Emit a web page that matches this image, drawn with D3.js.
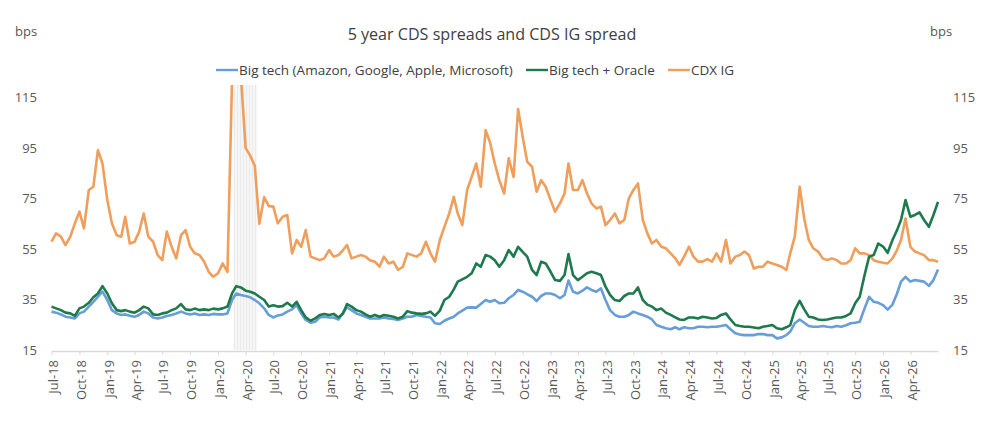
<!DOCTYPE html>
<html><head><meta charset="utf-8">
<script src="https://cdn.jsdelivr.net/npm/d3@7/dist/d3.min.js"></script>
<style>
html,body{margin:0;padding:0;background:#fff;}
svg{display:block;font-family:"Open Sans","Noto Sans",sans-serif;}
</style></head>
<body><svg id="chart" width="990" height="426"></svg>
<script>
// ---------------- DATA ----------------
const dates = [
"2018-07-01","2018-07-16","2018-08-01","2018-08-16","2018-09-01","2018-09-16","2018-10-01","2018-10-16","2018-11-01","2018-11-16","2018-12-01","2018-12-16",
"2019-01-01","2019-01-16","2019-02-01","2019-02-16","2019-03-01","2019-03-16","2019-04-01","2019-04-16","2019-05-01","2019-05-16","2019-06-01","2019-06-16",
"2019-07-01","2019-07-16","2019-08-01","2019-08-16","2019-09-01","2019-09-16","2019-10-01","2019-10-16","2019-11-01","2019-11-16","2019-12-01","2019-12-16",
"2020-01-01","2020-01-16","2020-02-01","2020-02-16","2020-03-01","2020-03-16","2020-04-01","2020-04-16","2020-05-01","2020-05-16","2020-06-01","2020-06-16",
"2020-07-01","2020-07-16","2020-08-01","2020-08-16","2020-09-01","2020-09-16","2020-10-01","2020-10-16","2020-11-01","2020-11-16","2020-12-01","2020-12-16",
"2021-01-01","2021-01-16","2021-02-01","2021-02-16","2021-03-01","2021-03-16","2021-04-01","2021-04-16","2021-05-01","2021-05-16","2021-06-01","2021-06-16",
"2021-07-01","2021-07-16","2021-08-01","2021-08-16","2021-09-01","2021-09-16","2021-10-01","2021-10-16","2021-11-01","2021-11-16","2021-12-01","2021-12-16",
"2022-01-01","2022-01-16","2022-02-01","2022-02-16","2022-03-01","2022-03-16","2022-04-01","2022-04-16","2022-05-01","2022-05-16","2022-06-01","2022-06-16",
"2022-07-01","2022-07-16","2022-08-01","2022-08-16","2022-09-01","2022-09-16","2022-10-01","2022-10-16","2022-11-01","2022-11-16","2022-12-01","2022-12-16",
"2023-01-01","2023-01-16","2023-02-01","2023-02-16","2023-03-01","2023-03-16","2023-04-01","2023-04-16","2023-05-01","2023-05-16","2023-06-01","2023-06-16",
"2023-07-01","2023-07-16","2023-08-01","2023-08-16","2023-09-01","2023-09-16","2023-10-01","2023-10-16","2023-11-01","2023-11-16","2023-12-01","2023-12-16",
"2024-01-01","2024-01-16","2024-02-01","2024-02-16","2024-03-01","2024-03-16","2024-04-01","2024-04-16","2024-05-01","2024-05-16","2024-06-01","2024-06-16",
"2024-07-01","2024-07-16","2024-08-01","2024-08-16","2024-09-01","2024-09-16","2024-10-01","2024-10-16","2024-11-01","2024-11-16","2024-12-01","2024-12-16",
"2025-01-01","2025-01-16","2025-02-01","2025-02-16","2025-03-01","2025-03-16","2025-04-01","2025-04-16","2025-05-01","2025-05-16","2025-06-01","2025-06-16",
"2025-07-01","2025-07-16","2025-08-01","2025-08-16","2025-09-01","2025-09-16","2025-10-01","2025-10-16","2025-11-01","2025-11-16","2025-12-01","2025-12-16",
"2026-01-01","2026-01-16","2026-02-01","2026-02-16","2026-03-01","2026-03-16","2026-04-01","2026-04-16","2026-05-01","2026-05-16","2026-06-01","2026-06-16",
"2026-07-01"
];

const bigTech = [
30.2,29.8,29.1,28.2,27.9,27.5,29.5,30.2,32.2,34.1,36.1,38.1,
34.8,30.8,29.5,28.9,29.1,28.6,28.2,28.9,30.2,29.5,27.9,27.5,
27.9,28.5,28.9,29.5,30.2,29.5,29.1,29.5,28.9,29.1,28.9,29.3,
29.1,29.1,29.5,34.8,37.4,36.8,36.4,35.9,34.8,33.5,31.5,28.9,
27.9,28.7,29.1,30.2,31.1,32.8,29.5,26.9,25.8,26.2,27.9,28.2,
27.9,27.9,27.1,29.8,31.9,30.8,29.5,28.9,28.2,27.5,27.5,27.5,
27.9,27.5,27.3,26.9,27.5,28.2,28.2,28.9,28.5,28.2,27.9,25.6,
25.3,26.6,27.5,28.2,29.5,30.6,31.8,31.9,31.8,33.2,34.8,34.1,
34.8,33.5,33.7,35.5,36.8,38.8,38.1,37.1,36.1,34.4,36.4,37.4,
37.4,36.8,35.5,36.8,42.5,38.1,37.4,38.5,39.8,38.8,38.1,39.4,
34.8,30.8,28.9,28.2,28.2,28.9,30.2,29.5,28.9,28.2,27.1,24.9,
24.2,23.6,23.2,24.0,23.2,24.0,23.6,23.6,24.2,24.2,24.0,24.2,
24.2,24.5,24.9,23.2,21.6,21.1,20.9,20.9,20.9,21.3,21.3,20.9,
20.9,19.6,20.0,20.9,22.3,25.6,27.1,25.8,24.5,24.2,24.2,24.5,
24.2,24.0,24.5,24.2,24.8,25.6,25.8,26.2,31.5,36.1,34.1,33.7,
32.8,31.0,33.0,37.4,42.1,44.0,42.1,42.7,42.4,42.1,40.4,42.7,
46.9
];

const bigTechOracle = [
32.2,31.5,30.8,29.8,29.5,28.5,31.5,32.2,33.7,35.9,37.4,40.3,
37.4,33.5,30.8,30.4,30.8,30.2,29.8,30.8,32.2,31.5,29.1,28.9,
29.5,29.8,30.8,31.5,33.2,31.1,30.8,31.4,30.8,31.1,30.8,31.4,
31.1,31.5,32.2,37.4,40.3,39.8,38.5,38.1,37.4,36.1,34.8,32.2,
32.7,32.2,32.4,33.7,32.2,34.1,30.8,27.9,26.6,27.5,28.9,29.3,
28.9,29.3,27.9,29.5,33.2,32.2,30.8,30.2,29.1,28.2,28.9,28.2,
28.9,28.6,28.2,27.5,28.2,30.4,29.8,29.5,29.3,29.5,30.2,28.5,
30.6,34.8,36.1,39.0,42.1,43.0,44.0,45.4,49.3,48.0,52.6,52.0,
50.6,48.0,50.6,54.6,52.0,55.9,53.9,52.0,46.7,44.7,50.0,49.3,
46.0,42.7,42.4,44.7,53.0,44.7,42.7,44.0,45.4,46.0,45.4,44.7,
40.1,36.8,34.8,34.4,36.4,37.4,37.4,39.8,34.8,33.0,32.2,30.8,
31.4,29.8,28.9,27.9,27.1,26.9,27.9,27.9,27.5,28.2,27.9,27.5,
27.7,28.9,29.5,27.1,24.9,24.5,24.2,24.2,23.9,23.6,24.2,24.5,
24.9,23.6,23.2,24.0,24.9,30.8,34.5,31.1,28.2,27.9,27.1,26.9,
27.1,27.5,27.9,27.9,28.5,29.5,33.5,36.1,44.7,52.0,52.6,57.2,
56.0,53.5,58.6,62.5,66.5,74.4,67.8,68.5,69.5,66.5,63.8,68.5,
73.7
];

const cdxIG = [
57.9,61.2,59.9,56.6,59.9,65.2,69.8,63.2,78.4,79.7,94.2,88.9,
74.4,65.2,60.5,59.9,67.8,57.2,57.9,61.9,69.1,59.9,57.9,52.6,
50.6,61.9,55.9,51.3,60.5,62.5,55.9,53.3,52.6,50.0,46.0,44.0,
45.4,49.3,46.0,122,130,124,95,92,88,65,75.6,72,
71.8,65.2,67.8,68.5,53.3,58.6,55.9,62.5,52.0,51.3,50.6,51.3,
54.6,52.0,52.6,54.6,56.6,51.3,52.0,52.6,52.0,50.6,50.0,48.0,
52.0,49.3,50.0,46.7,48.0,53.3,52.6,52.0,53.3,57.9,53.3,50.0,
58.6,63.8,69.1,75.7,69.1,64.5,78.4,83.6,88.9,79.7,102.1,97.0,
88.9,82.3,77.0,91.0,83.6,110.5,99.5,89.6,87.6,77.7,82.3,79.7,
74.4,69.8,73.1,77.0,88.9,78.4,78.4,82.3,77.0,73.1,71.1,71.8,
64.5,66.5,69.1,65.2,66.5,75.1,78.4,81.0,66.5,61.2,57.2,58.6,
55.9,55.3,53.3,51.3,48.7,52.0,55.9,52.0,50.0,50.0,51.0,50.0,
53.3,50.0,58.6,49.3,52.0,52.6,54.0,52.6,47.3,48.0,48.0,50.0,
49.3,48.7,48.0,46.7,53.3,59.9,79.7,67.1,58.6,55.3,54.0,51.3,
50.6,51.3,50.6,49.3,49.3,50.6,55.3,53.3,53.3,52.6,50.6,50.0,
49.6,49.3,51.3,54.6,58.6,67.1,55.9,54.0,53.3,52.6,50.6,50.6,
50.0
];

const tickLabels = ["Jul-18","Oct-18","Jan-19","Apr-19","Jul-19","Oct-19","Jan-20","Apr-20",
"Jul-20","Oct-20","Jan-21","Apr-21","Jul-21","Oct-21","Jan-22","Apr-22",
"Jul-22","Oct-22","Jan-23","Apr-23","Jul-23","Oct-23","Jan-24","Apr-24",
"Jul-24","Oct-24","Jan-25","Apr-25","Jul-25","Oct-25","Jan-26","Apr-26"];
const yTicks = [15,35,55,75,95,115];
const shadedPeriod = ["2020-02-20","2020-05-08"];
const seriesNames = ["Big tech (Amazon, Google, Apple, Microsoft)","Big tech + Oracle","CDX IG"];
const title = "5 year CDS spreads and CDS IG spread";
const unitLabel = "bps";

// ---------------- CHART ----------------
const parse = d3.timeParse("%Y-%m-%d");
const parseTick = d3.timeParse("%b-%y");
const D = dates.map(parse);
const colors = {blue:"#679ed8", green:"#1d7a4d", orange:"#f09e5c"};

const svg = d3.select("#chart");
const x = d3.scaleTime().domain([parse("2018-07-01"), parse("2026-07-01")]).range([51.5, 938]);
const y = d3.scaleLinear().domain([15,120]).range([350, 85]);

// pattern for shaded area
const defs = svg.append("defs");
const pat = defs.append("pattern").attr("id","stripes").attr("patternUnits","userSpaceOnUse")
  .attr("width",3).attr("height",10);
pat.append("rect").attr("width",3).attr("height",10).attr("fill","#f6f6f6");
pat.append("rect").attr("width",1).attr("height",10).attr("fill","#ebebeb");
defs.append("clipPath").attr("id","plotclip").append("rect")
  .attr("x",40).attr("y",85).attr("width",910).attr("height",266);

svg.append("rect")
  .attr("x", x(parse(shadedPeriod[0])))
  .attr("y", y(120))
  .attr("width", x(parse(shadedPeriod[1])) - x(parse(shadedPeriod[0])))
  .attr("height", y(15) - y(120))
  .attr("fill","url(#stripes)");

// x axis
const xAxis = d3.axisBottom(x)
  .tickValues(tickLabels.map(parseTick))
  .tickFormat(d3.timeFormat("%b-%y"))
  .tickSize(4).tickSizeOuter(0);
const gx = svg.append("g").attr("transform","translate(0,351)").call(xAxis);
gx.select(".domain").attr("stroke","#d9d9d9").attr("stroke-width",1.5);
gx.selectAll(".tick line").attr("stroke","#d9d9d9");
gx.selectAll(".tick text")
  .attr("fill","#595959").attr("font-size","13px").attr("font-family","'Open Sans',sans-serif")
  .attr("text-anchor","end")
  .attr("transform","rotate(-90)")
  .attr("x",-9).attr("y",1).attr("dy","0.36em");

// y axes
const yl = svg.append("g").attr("transform","translate(37,0)")
  .call(d3.axisLeft(y).tickValues(yTicks).tickSize(0).tickPadding(0));
const yr = svg.append("g").attr("transform","translate(953,0)")
  .call(d3.axisRight(y).tickValues(yTicks).tickSize(0).tickPadding(0));
[yl,yr].forEach(g=>{
  g.select(".domain").remove();
  g.selectAll("text").attr("fill","#595959").attr("font-size","13px")
    .attr("font-family","'Open Sans',sans-serif");
});

// lines
const line = vals => d3.line().x((d,i)=>x(D[i])).y(d=>y(d))(vals);
const plot = svg.append("g").attr("clip-path","url(#plotclip)");
plot.append("path").attr("d", line(cdxIG)).attr("fill","none")
  .attr("stroke",colors.orange).attr("stroke-width",2.6).attr("stroke-linejoin","round");
plot.append("path").attr("d", line(bigTech)).attr("fill","none")
  .attr("stroke",colors.blue).attr("stroke-width",2.6).attr("stroke-linejoin","round");
plot.append("path").attr("d", line(bigTechOracle)).attr("fill","none")
  .attr("stroke",colors.green).attr("stroke-width",2.6).attr("stroke-linejoin","round");

// title and unit labels
svg.append("text").attr("x",492).attr("y",40).attr("text-anchor","middle")
  .attr("font-size","16.1px").attr("fill","#404040").text(title);
svg.append("text").attr("x",15).attr("y",36).attr("font-size","13px").attr("fill","#595959").text(unitLabel);
svg.append("text").attr("x",930).attr("y",36).attr("font-size","13px").attr("fill","#595959").text(unitLabel);

// legend
const legendItems = [
  {name:seriesNames[0], color:colors.blue, x:216},
  {name:seriesNames[1], color:colors.green, x:526},
  {name:seriesNames[2], color:colors.orange, x:668}
];
const lg = svg.append("g");
legendItems.forEach(it=>{
  lg.append("line").attr("x1",it.x).attr("x2",it.x+22).attr("y1",70).attr("y2",70)
    .attr("stroke",it.color).attr("stroke-width",2.4);
  lg.append("text").attr("x",it.x+23).attr("y",74.8).attr("font-size","13.5px")
    .attr("fill","#404040").text(it.name);
});
</script>
</body></html>
